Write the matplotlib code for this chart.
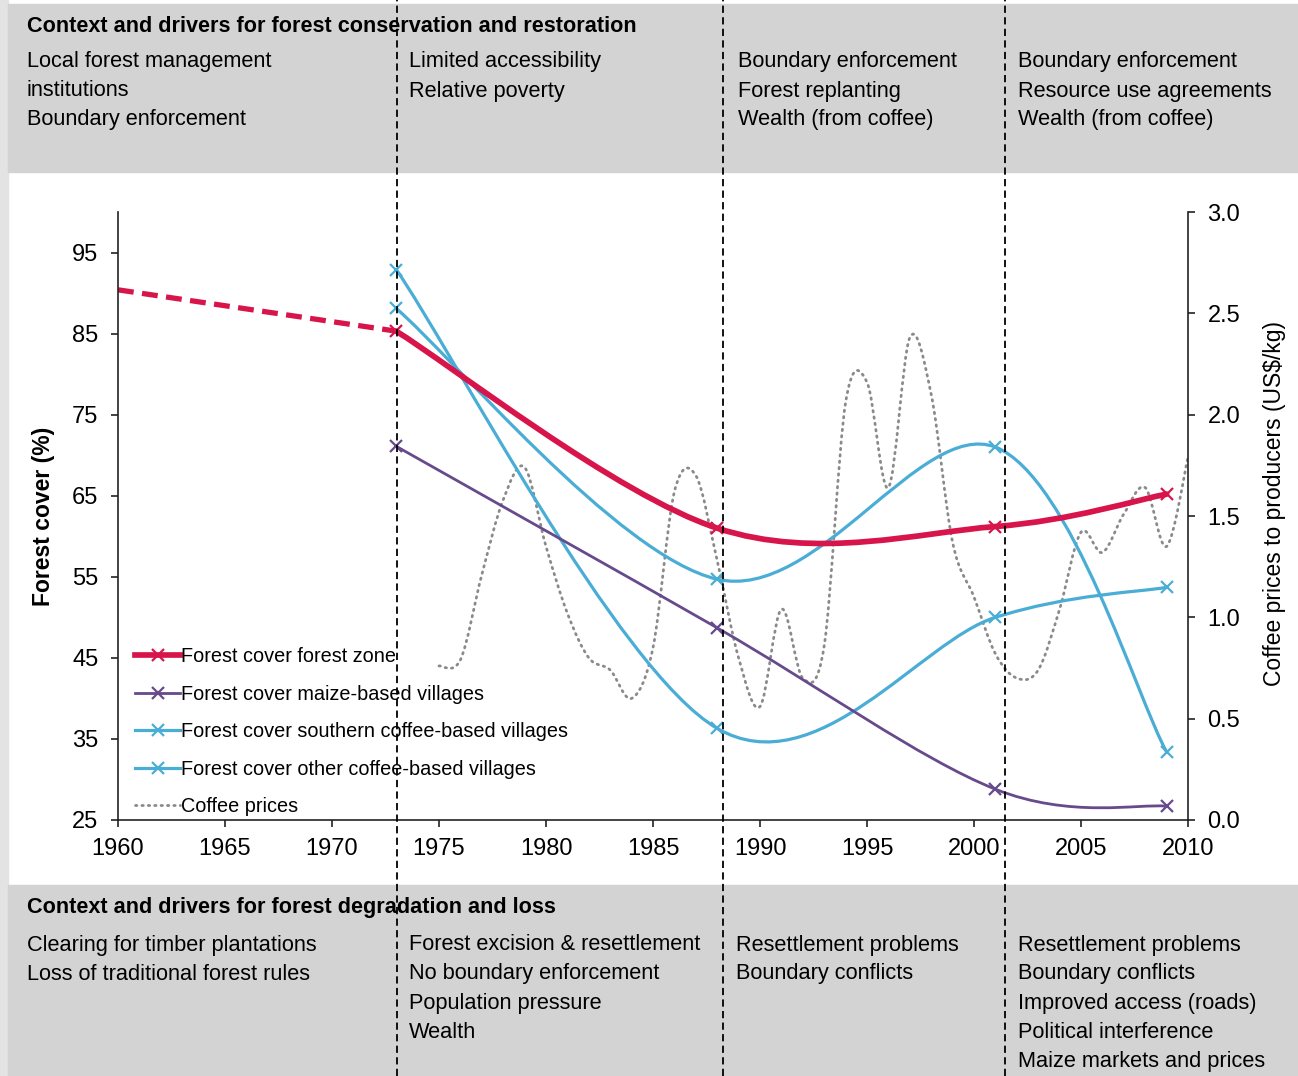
import numpy as np
import matplotlib
matplotlib.use("Agg")
import matplotlib.pyplot as plt
from matplotlib.path import Path
from matplotlib.patches import PathPatch, Rectangle
from matplotlib.lines import Line2D

plt.rcParams['font.family'] = ['Liberation Sans', 'DejaVu Sans']

# ---- data ----
survey_years = [1973, 1988, 2001, 2009]
forest_zone = [85.3, 61.0, 61.2, 65.2]
forest_zone_est_years = [1960, 1973]
forest_zone_est = [90.4, 85.3]
maize_villages = [71.1, 48.7, 28.8, 26.7]
southern_coffee = [92.9, 36.3, 50.0, 53.7]
other_coffee = [88.1, 54.7, 71.0, 33.4]

coffee_years = list(range(1975, 2011))
coffee_prices = [0.76, 0.79, 1.21, 1.58, 1.74, 1.35, 1.02, 0.80, 0.74, 0.60,
                 0.85, 1.62, 1.70, 1.28, 0.80, 0.56, 1.04, 0.70, 0.86, 2.06,
                 2.16, 1.64, 2.38, 2.10, 1.37, 1.10, 0.82, 0.70, 0.74, 1.04,
                 1.42, 1.32, 1.51, 1.64, 1.35, 1.79]

period_lines_px = [397, 723, 1005]

top_title = "Context and drivers for forest conservation and restoration"
top_cols = [["Local forest management", "institutions", "Boundary enforcement"],
            ["Limited accessibility", "Relative poverty"],
            ["Boundary enforcement", "Forest replanting", "Wealth (from coffee)"],
            ["Boundary enforcement", "Resource use agreements", "Wealth (from coffee)"]]
bottom_title = "Context and drivers for forest degradation and loss"
bottom_cols = [["Clearing for timber plantations", "Loss of traditional forest rules"],
               ["Forest excision & resettlement", "No boundary enforcement",
                "Population pressure", "Wealth"],
               ["Resettlement problems", "Boundary conflicts"],
               ["Resettlement problems", "Boundary conflicts", "Improved access (roads)",
                "Political interference", "Maize markets and prices"]]
col_x_top = [27, 409, 738, 1018]
col_x_bottom = [27, 409, 736, 1018]

RED = '#d7154b'
PURPLE = '#674a8b'
BLUE = '#4aadd5'
GREY = '#8a8a8a'

W, H = 1298, 1076


def fx(x):
    return x / W


def fy(y):
    return 1 - y / H


def smooth_path(xs, ys):
    # Excel-like smoothed line (Catmull-Rom as cubic Bezier)
    pts = np.column_stack([xs, ys]).astype(float)
    n = len(pts)
    verts = [pts[0]]
    codes = [Path.MOVETO]
    for i in range(n - 1):
        p0 = pts[max(i - 1, 0)]
        p1 = pts[i]
        p2 = pts[i + 1]
        p3 = pts[min(i + 2, n - 1)]
        verts += [p1 + (p2 - p0) / 6, p2 - (p3 - p1) / 6, p2]
        codes += [Path.CURVE4] * 3
    return Path(verts, codes)


fig = plt.figure(figsize=(W / 100, H / 100), dpi=100, facecolor='white')

# grey context bands
fig.patches.append(Rectangle((0, 0), fx(8), 1, transform=fig.transFigure,
                             color='#e3e3e3', zorder=0))
fig.patches.append(Rectangle((fx(8), fy(172)), 1, (172 - 4) / H,
                             transform=fig.transFigure, color='#d3d3d3', zorder=0))
fig.patches.append(Rectangle((fx(8), 0), 1, (H - 885) / H,
                             transform=fig.transFigure, color='#d3d3d3', zorder=0))

TXT = 15.7
fig.text(fx(27), fy(26), top_title, fontsize=15.6, fontweight='bold', va='center')
for cx, lines in zip(col_x_top, top_cols):
    for i, s in enumerate(lines):
        fig.text(fx(cx), fy(62 + 29 * i), s, fontsize=TXT, va='center')

fig.text(fx(27), fy(907), bottom_title, fontsize=15.6, fontweight='bold', va='center')
for cx, lines in zip(col_x_bottom, bottom_cols):
    for i, s in enumerate(lines):
        fig.text(fx(cx), fy(945 + 29 * i), s, fontsize=TXT, va='center')

# main axes
ax = fig.add_axes([fx(118), fy(820), (1188 - 118) / W, (820 - 212) / H])
ax.patch.set_alpha(0)
ax.set_xlim(1960, 2010)
ax.set_ylim(25, 100)
ax.set_xticks(range(1960, 2011, 5))
ax.set_yticks(range(25, 96, 10))
ax.spines['top'].set_visible(False)
ax.spines['right'].set_visible(False)
for sp in ['left', 'bottom']:
    ax.spines[sp].set_linewidth(1.2)
    ax.spines[sp].set_color('#222222')
ax.tick_params(axis='both', labelsize=17, length=5, width=1.2, color='#222222')
ax.tick_params(axis='y', pad=9)
ax.tick_params(axis='x', pad=8)
ax.set_ylabel('Forest cover (%)', fontsize=16.5, fontweight='bold')
ax.yaxis.set_label_coords((55 - 118) / 1070, 0.5)

ax2 = ax.twinx()
ax2.set_ylim(0, 3)
ax2.set_yticks(np.arange(0, 3.01, 0.5))
ax2.set_yticklabels(['%.1f' % v for v in np.arange(0, 3.01, 0.5)])
for sp in ['top', 'left', 'bottom']:
    ax2.spines[sp].set_visible(False)
ax2.spines['right'].set_linewidth(1.2)
ax2.spines['right'].set_color('#222222')
ax2.tick_params(axis='y', labelsize=17, length=5, width=1.2, color='#222222', pad=9)
ax2.set_ylabel('Coffee prices to producers (US$/kg)', fontsize=16.5)
ax2.yaxis.set_label_coords(1 + (1263 - 1188) / 1070, 0.52)

# coffee prices (right axis)
ax2.add_patch(PathPatch(smooth_path(coffee_years, coffee_prices), fill=False,
                        edgecolor=GREY, lw=2.0, ls=(0, (0.5, 1.8)), capstyle='round'))

# forest cover series (left axis, drawn on top)
ax.set_zorder(ax2.get_zorder() + 1)
ax.plot(forest_zone_est_years, forest_zone_est, color=RED, lw=3.8,
        ls=(0, (3.0, 1.6)), solid_capstyle='butt')
series = [(southern_coffee, BLUE, 2.3), (other_coffee, BLUE, 2.3),
          (maize_villages, PURPLE, 2.0), (forest_zone, RED, 4.1)]
for vals, col, lw in series:
    ax.add_patch(PathPatch(smooth_path(survey_years, vals), fill=False,
                           edgecolor=col, lw=lw, capstyle='round'))
    ax.plot(survey_years, vals, ls='none', marker='x', ms=9, mew=1.6, color=col)

handles = [Line2D([], [], color=RED, lw=4.1, marker='x', ms=9, mew=1.6),
           Line2D([], [], color=PURPLE, lw=2.0, marker='x', ms=9, mew=1.6),
           Line2D([], [], color=BLUE, lw=2.3, marker='x', ms=9, mew=1.6),
           Line2D([], [], color=BLUE, lw=2.3, marker='x', ms=9, mew=1.6),
           Line2D([], [], color=GREY, lw=2.0, ls=(0, (0.5, 1.8)),
                  dash_capstyle='round')]
labels = ['Forest cover forest zone', 'Forest cover maize-based villages',
          'Forest cover southern coffee-based villages',
          'Forest cover other coffee-based villages', 'Coffee prices']
ax.legend(handles, labels, loc='lower left', bbox_to_anchor=(0.012, 0.0),
          frameon=False, fontsize=14.3, handlelength=2.3, handletextpad=0.05,
          labelspacing=0.93, borderpad=0.2, borderaxespad=0)

# period boundaries across the whole figure
for px in period_lines_px:
    fig.add_artist(Line2D([fx(px), fx(px)], [0, 1], transform=fig.transFigure,
                          color='black', lw=1.3, ls=(0, (4, 2.4)), zorder=20))

fig.savefig('out.png', dpi=100)
